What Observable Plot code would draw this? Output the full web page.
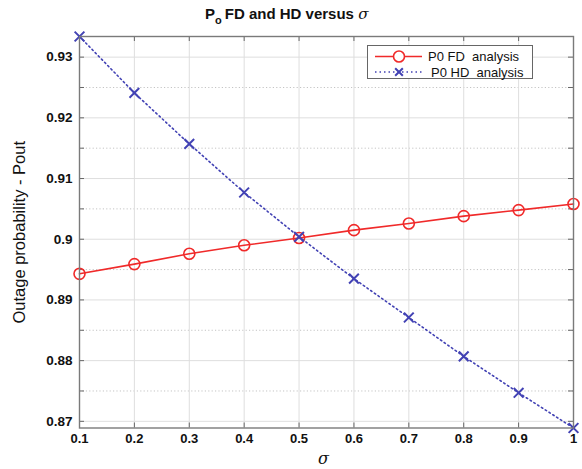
<!DOCTYPE html>
<html><head><meta charset="utf-8">
<script src="https://cdn.jsdelivr.net/npm/d3@7"></script>
<script src="https://cdn.jsdelivr.net/npm/@observablehq/plot@0.6"></script>
<style>
body{margin:0;background:#fff;font-family:Arial,"Liberation Sans",sans-serif}
#wrap{position:relative;width:582px;height:469px;overflow:hidden}
#title{position:absolute;top:5px;left:205px;font-size:15px;font-weight:bold;color:#111;white-space:nowrap}
#title sub{font-size:11px;vertical-align:-5px;margin-right:3px}
#legend{position:absolute;left:367px;top:45px}
</style></head>
<body><div id="wrap"><div id="chart"></div>
<div id="title">P<sub>o</sub>FD and HD versus <i style="font-family:'DejaVu Serif',serif;font-weight:normal">σ</i></div>
<div id="legend"></div></div>
<script>
const sigma = [0.1,0.2,0.3,0.4,0.5,0.6,0.7,0.8,0.9,1.0];
const pFD = [0.8943,0.8959,0.8976,0.8990,0.9002,0.9015,0.9026,0.9038,0.9048,0.9058];
const pHD = [0.9334,0.9241,0.9157,0.9077,0.9004,0.8935,0.8871,0.8807,0.8747,0.8689];
const seriesNames = ["P0 FD  analysis","P0 HD  analysis"];
const xTicks = [0.1,0.2,0.3,0.4,0.5,0.6,0.7,0.8,0.9,1.0];
const xTickLabels = ["0.1","0.2","0.3","0.4","0.5","0.6","0.7","0.8","0.9","1"];
const yTicks = [0.87,0.88,0.89,0.90,0.91,0.92,0.93];
const yTickLabels = ["0.87","0.88","0.89","0.9","0.91","0.92","0.93"];
const yMinor = [0.875,0.885,0.895,0.905,0.915,0.925];
const yLabel = "Outage probability - Pout";
const xLabel = "σ";

const red = "#f02a2a", blue = "#4242b4";
const fd = sigma.map((s,i)=>({s, p:pFD[i]}));
const hd = sigma.map((s,i)=>({s, p:pHD[i]}));
const yAll = pFD.concat(pHD);
const H = 469, mT = 36, mB = 41.5;
const frameH = H - mT - mB;
const tl = 5;

const chart = Plot.plot({
  width: 582, height: H,
  marginLeft: 79, marginRight: 9, marginTop: mT, marginBottom: mB,
  x: {domain: [0.1, 1.0]},
  y: {domain: d3.extent(yAll)},
  style: {fontFamily: "Arial, 'Liberation Sans', sans-serif", background: "#fff"},
  marks: [
    Plot.ruleY(yMinor, {stroke: "#c4c4c4", strokeDasharray: "1.2,2.2", strokeWidth: 1}),
    Plot.ruleY(yTicks, {stroke: "#dedede", strokeWidth: 1}),
    Plot.ruleX(xTicks, {stroke: "#dedede", strokeWidth: 1}),
    // inward ticks
    Plot.ruleX(xTicks, {stroke: "#666", insetTop: frameH - tl}),
    Plot.ruleX(xTicks, {stroke: "#666", insetBottom: frameH - tl}),
    Plot.tickY(yTicks.concat(yMinor), {stroke: "#666", insetRight: 494 - tl}),
    Plot.tickY(yTicks.concat(yMinor), {stroke: "#666", insetLeft: 494 - tl}),
    Plot.axisX({ticks: xTicks, tickSize: 0, tickPadding: 6, tickFormat: d => xTickLabels[xTicks.indexOf(d)], fontSize: 13, fontWeight: "bold", fill: "#111", label: null}),
    Plot.axisY({ticks: yTicks, tickSize: 0, tickPadding: 7, tickFormat: d => yTickLabels[yTicks.indexOf(d)], fontSize: 13.5, fontWeight: "bold", fill: "#111", label: null}),
    Plot.text([yLabel], {text: d => d, frameAnchor: "left", textAnchor: "middle", rotate: -90, dx: -60, fontSize: 16.5, fill: "#111"}),
    Plot.text([xLabel], {text: d => d, frameAnchor: "bottom", textAnchor: "middle", dx: -3, dy: 36, fontSize: 16, fontStyle: "italic", fontFamily: "'DejaVu Serif', serif", fill: "#111"}),
    Plot.line(fd, {x: "s", y: "p", stroke: red, strokeWidth: 1.6}),
    Plot.dot(fd, {x: "s", y: "p", r: 5.5, stroke: red, strokeWidth: 1.6, fill: "none"}),
    Plot.line(hd, {x: "s", y: "p", stroke: blue, strokeWidth: 1.6, strokeDasharray: "1.5,3"}),
    Plot.dot(hd, {x: "s", y: "p", symbol: "times", r: 4.5, stroke: blue, strokeWidth: 2}),
    Plot.frame({stroke: "#7a7a7a", strokeWidth: 1.4})
  ]
});
document.getElementById("chart").appendChild(chart);

// legend
const lg = d3.select("#legend").append("svg").attr("width", 167).attr("height", 35);
lg.append("rect").attr("x", 0.5).attr("y", 0.5).attr("width", 165).attr("height", 33).attr("fill", "#fff").attr("stroke", "#666").attr("stroke-width", 1);
const rows = [{name: seriesNames[0], color: red, dash: null, sym: "circle"}, {name: seriesNames[1], color: blue, dash: "1.5,3", sym: "times"}];
rows.forEach((r, i) => {
  const y = 11.5 + i * 15.5;
  lg.append("line").attr("x1", 8).attr("x2", 55).attr("y1", y).attr("y2", y).attr("stroke", r.color).attr("stroke-width", 1.6).attr("stroke-dasharray", r.dash);
  if (r.sym === "circle") lg.append("circle").attr("cx", 32).attr("cy", y).attr("r", 5.5).attr("fill", "#fff").attr("stroke", r.color).attr("stroke-width", 1.6);
  else lg.append("path").attr("d", d3.symbol(d3.symbolTimes, 40)()).attr("transform", `translate(32,${y})`).attr("stroke", r.color).attr("stroke-width", 2).attr("fill", "none");
  lg.append("text").attr("x", 61 + i * 3).attr("y", y + 4.5).attr("font-size", 13).attr("fill", "#111").attr("xml:space", "preserve").style("white-space", "pre").text(r.name);
});
</script></body></html>
